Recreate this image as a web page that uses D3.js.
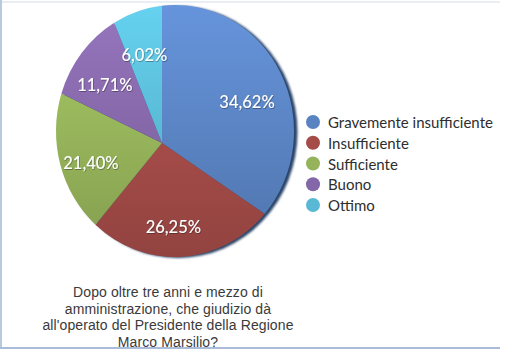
<!DOCTYPE html>
<html><head><meta charset="utf-8">
<script src="https://cdn.jsdelivr.net/npm/d3@7"></script>
<style>body{margin:0;background:#fff}svg{display:block}</style>
</head><body>
<script>
const categories = ["Gravemente insufficiente", "Insufficiente", "Sufficiente", "Buono", "Ottimo"];
const values = [34.62, 26.25, 21.40, 11.71, 6.02];
const valueLabels = ["34,62%", "26,25%", "21,40%", "11,71%", "6,02%"];
const colors = ["#5a83c2", "#a54c48", "#95b35a", "#8467a8", "#59b9d4"];
const titleLines = ["Dopo oltre tre anni e mezzo di", "amministrazione, che giudizio dà", "all'operato del Presidente della Regione", "Marco Marsilio?"];

const W = 520, H = 352;
const svg = d3.select("body").append("svg").attr("width", W).attr("height", H);
const defs = svg.append("defs");

// ellipse geometry (perspective-like pie: apex off the ellipse centre)
const E = {cx: 175, cy: 131, rx: 119, ry: 126};
const apex = {x: 162, y: 143};

function edgePoint(a) {
  const dx = Math.sin(a), dy = -Math.cos(a);
  const ox = (apex.x - E.cx) / E.rx, oy = (apex.y - E.cy) / E.ry;
  const ux = dx / E.rx, uy = dy / E.ry;
  const A = ux * ux + uy * uy, B = 2 * (ox * ux + oy * uy), C = ox * ox + oy * oy - 1;
  const t = (-B + Math.sqrt(B * B - 4 * A * C)) / (2 * A);
  return {x: apex.x + t * dx, y: apex.y + t * dy, t};
}
function paramAngle(p) { return Math.atan2((p.y - E.cy) / E.ry, (p.x - E.cx) / E.rx); }

const pie = d3.pie().sort(null).value(d => d)(values);

function slicePath(d) {
  const p0 = edgePoint(d.startAngle), p1 = edgePoint(d.endAngle);
  let span = paramAngle(p1) - paramAngle(p0);
  while (span < 0) span += 2 * Math.PI;
  const large = span > Math.PI ? 1 : 0;
  return `M${apex.x},${apex.y}L${p0.x},${p0.y}A${E.rx},${E.ry} 0 ${large} 1 ${p1.x},${p1.y}Z`;
}

// gradients
colors.forEach((c, i) => {
  const g = defs.append("linearGradient").attr("id", "g" + i)
    .attr("gradientUnits", "userSpaceOnUse")
    .attr("x1", 0).attr("y1", E.cy - E.ry).attr("x2", 0).attr("y2", E.cy + E.ry);
  g.append("stop").attr("offset", 0).attr("stop-color", d3.color(c).brighter(0.35));
  g.append("stop").attr("offset", 1).attr("stop-color", d3.color(c).darker(0.35));
});
const blur = defs.append("filter").attr("id", "blur").attr("x", "-10%").attr("y", "-10%").attr("width", "120%").attr("height", "120%");
blur.append("feGaussianBlur").attr("stdDeviation", 1.2);
const tsh = defs.append("filter").attr("id", "tsh");
tsh.append("feDropShadow").attr("dx", 0.6).attr("dy", 0.8).attr("stdDeviation", 0.6).attr("flood-color", "#000").attr("flood-opacity", 0.4);

// rim shadow
svg.append("ellipse").attr("cx", E.cx + 3).attr("cy", E.cy + 1).attr("rx", E.rx + 0.5).attr("ry", E.ry)
  .attr("fill", "#2c4569").attr("filter", "url(#blur)");

svg.append("g").selectAll("path").data(pie).join("path")
  .attr("d", slicePath)
  .attr("fill", (d, i) => `url(#g${i})`);

// labels
svg.append("g").selectAll("text").data(pie).join("text")
  .attr("x", d => { const m = (d.startAngle + d.endAngle) / 2; const p = edgePoint(m); return apex.x + Math.sin(m) * p.t * 0.7; })
  .attr("y", d => { const m = (d.startAngle + d.endAngle) / 2; const p = edgePoint(m); return apex.y - Math.cos(m) * p.t * 0.7 + 4; })
  .attr("text-anchor", "middle").attr("dominant-baseline", "central")
  .attr("font-family", "Lato, 'Open Sans', sans-serif").attr("font-size", 16.5).attr("font-weight", 500)
  .attr("fill", "#fff").attr("filter", "url(#tsh)")
  .text((d, i) => valueLabels[i]);

// legend
const ly = d3.scalePoint().domain(categories).range([122, 205]);
const leg = svg.append("g").selectAll("g").data(categories).join("g")
  .attr("transform", d => `translate(313,${ly(d)})`);
leg.append("circle").attr("r", 7).attr("fill", (d, i) => colors[i]);
leg.append("text").attr("x", 15).attr("dominant-baseline", "central")
  .attr("font-family", "Lato, 'Open Sans', sans-serif").attr("font-size", 15)
  .attr("fill", "#2e2e2e").text(d => d);

// title
svg.append("g").selectAll("text").data(titleLines).join("text")
  .attr("x", 168).attr("y", (d, i) => 292 + i * 16.5)
  .attr("text-anchor", "middle").attr("dominant-baseline", "central")
  .attr("font-family", "'Liberation Sans', Arial, sans-serif").attr("font-size", 14)
  .attr("letter-spacing", 0.1)
  .attr("fill", "#3a3a3a").text(d => d);

// frame
svg.append("rect").attr("x", 0).attr("y", 0).attr("width", 2).attr("height", 349).attr("fill", "#b9c9e2");
svg.append("rect").attr("x", 2).attr("y", 1).attr("width", 498).attr("height", 2).attr("fill", "#e9eef5");
svg.append("rect").attr("x", 0).attr("y", 347).attr("width", 500).attr("height", 2).attr("fill", "#a9bdda");
</script>
</body></html>
